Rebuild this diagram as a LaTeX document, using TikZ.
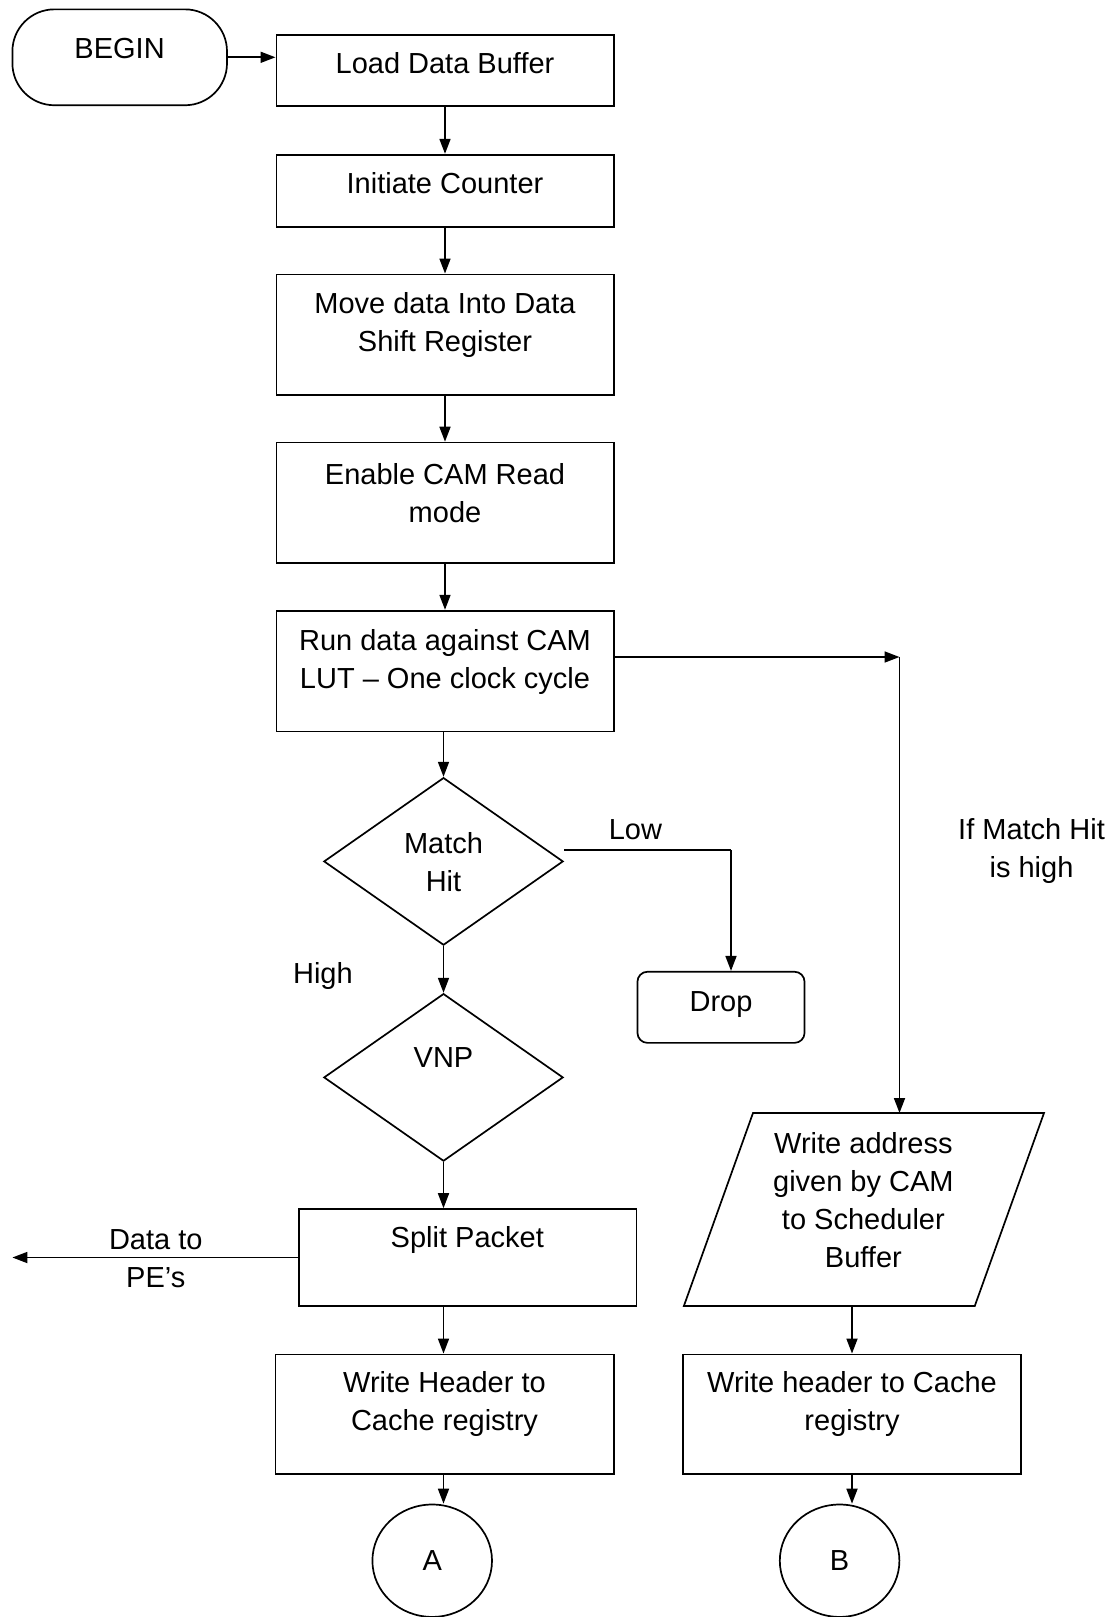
\documentclass[tikz,border=0pt]{standalone}
\usepackage{fontspec}
\setmainfont{Liberation Sans}
\usetikzlibrary{shapes.geometric,arrows.meta}

\begin{document}
\begin{tikzpicture}[x=1pt,y=-1pt,line width=1.7pt,
  txt/.style={font=\fontsize{29}{38}\selectfont, align=center, inner sep=0pt},
  box/.style={draw, rectangle, inner sep=0pt},
  dec/.style={draw, diamond, inner sep=0pt, minimum width=239.3pt, minimum height=167.5pt},
  term/.style={draw, ellipse, inner sep=0pt, minimum width=119.6pt, minimum height=112.4pt},
  arr/.style={-{Triangle[length=15pt,width=11pt]}}]
\useasboundingbox (0,0) rectangle (1115,1617);

% start terminal
\node[box, rounded corners=42pt, minimum width=214.6pt, minimum height=95.9pt] (begin) at (119.7,57.3) {};
\node[txt] (beginT) at (119.6,48.5) {BEGIN};

% main column
\node[box, minimum width=337.3pt, minimum height=71.2pt] (load) at (445,70.6) {};
\node[txt] (loadT) at (445,63) {Load Data Buffer};

\node[box, minimum width=337.3pt, minimum height=72.2pt] (init) at (445,190.8) {};
\node[txt] (initT) at (445,183.6) {Initiate Counter};

\node[box, minimum width=337.3pt, minimum height=120.6pt] (move) at (445,334.7) {};
\node[txt] (moveT) at (445,325.4) {Move data Into Data\\Shift Register};

\node[box, minimum width=337.3pt, minimum height=120.7pt] (enable) at (445,502.9) {};
\node[txt] (enableT) at (445,493.5) {Enable CAM Read\\mode};

\node[box, minimum width=337.3pt, minimum height=120.7pt] (run) at (445,671) {};
\node[txt] (runT) at (445,661.6) {Run data against CAM\\LUT -- One clock cycle};

\node[dec] (mh) at (443.5,861.4) {};
\node[txt] (mhT) at (443.5,861.8) {Match\\Hit};

\node[dec] (vnp) at (443.5,1077.4) {};
\node[txt] (vnpT) at (443.5,1057.3) {VNP};

\node[box, rounded corners=10pt, minimum width=167.1pt, minimum height=71.1pt] (drop) at (721,1007.3) {};
\node[txt] (dropT) at (721,1004.6) {Drop};

\node[box, minimum width=337.3pt, minimum height=96.9pt] (split) at (467.8,1257.5) {};
\node[txt] (splitT) at (467.3,1239.8) {Split Packet};

\node[box, minimum width=338.3pt, minimum height=119.6pt] (wh) at (444.5,1414.2) {};
\node[txt] (whT) at (444.5,1403.8) {Write Header to\\Cache registry};

\node[term] (A) at (432.2,1560.7) {};
\node[txt] (AT) at (432.2,1560.7) {A};

% right column
\draw (753,1113) -- (1044,1113) -- (974.8,1305.9) -- (683.9,1305.9) -- cycle;
\coordinate (paraTop) at (899.5,1113);
\coordinate (paraBot) at (852,1305.9);
\node[txt] (paraT) at (863.4,1200.6) {Write address\\given by CAM\\to Scheduler\\Buffer};

\node[box, minimum width=338.3pt, minimum height=119.6pt] (wh2) at (852,1414.2) {};
\node[txt] (wh2T) at (852,1403.8) {Write header to Cache\\registry};

\node[term] (B) at (839.6,1560.7) {};
\node[txt] (BT) at (839.6,1560.7) {B};

% labels
\node[txt] (lowL) at (635.4,829.3) {Low};
\node[txt] (highL) at (322.9,975.7) {High};
\node[txt] (peL) at (155.8,1258.4) {Data to\\PE’s};
\node[txt] (ifL) at (1031.5,850.9) {If Match Hit\\is high};

% connectors
\coordinate (hitCorner) at (899.5,657);
\coordinate (lowCorner) at (731,850);
\coordinate (pe) at (12.4,1257.5);

\draw[arr] (begin.east) -- (begin.east -| load.west);
\draw[arr] (load.south) -- (init.north);
\draw[arr] (init.south) -- (move.north);
\draw[arr] (move.south) -- (enable.north);
\draw[arr] (enable.south) -- (run.north);
\draw[arr] (run.south -| mh.north) -- (mh.north);
\draw[arr] (mh.south) -- (vnp.north);
\draw (mh.east |- lowCorner) -- (lowCorner);
\draw[arr] (lowCorner) -- (lowCorner |- drop.north);
\draw[arr] (vnp.south) -- (vnp.south |- split.north);
\draw[arr] (split.west) -- (pe);
\draw[arr] (split.south -| vnp.south) -- (vnp.south |- wh.north);
\draw[arr] (wh.south -| vnp.south) -- (vnp.south |- A.north);
\draw[arr] (run.east |- hitCorner) -- (hitCorner);
\draw[arr] (hitCorner) -- (paraTop);
\draw[arr] (paraBot) -- (paraBot |- wh2.north);
\draw[arr] (wh2.south) -- (wh2.south |- B.north);
\end{tikzpicture}
\end{document}
